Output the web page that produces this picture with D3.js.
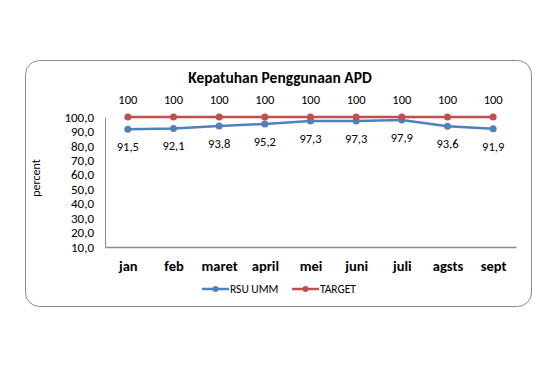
<!DOCTYPE html>
<html>
<head>
<meta charset="utf-8">
<script src="https://cdn.jsdelivr.net/npm/d3@7"></script>
<style>
  body { margin: 0; background: #fff; }
  svg text { font-family: Carlito, Lato, "Liberation Sans", sans-serif; fill: #000; }
</style>
</head>
<body>
<div id="chart"></div>
<script>
const months = ["jan", "feb", "maret", "april", "mei", "juni", "juli", "agsts", "sept"];
const rsuUmm = [91.5, 92.1, 93.8, 95.2, 97.3, 97.3, 97.9, 93.6, 91.9];
const target = [100, 100, 100, 100, 100, 100, 100, 100, 100];
const yTicks = [10, 20, 30, 40, 50, 60, 70, 80, 90, 100];

const series = [
  { name: "RSU UMM", values: rsuUmm, color: "#4F81BD", labelPos: "below" },
  { name: "TARGET", values: target, color: "#C0504D", labelPos: "above" }
];

const fullWidth = 560, fullHeight = 370;
const margin = { top: 117, right: 44, bottom: 123, left: 105 },
  width = fullWidth - margin.left - margin.right,
  height = fullHeight - margin.top - margin.bottom;

const root = d3.select("#chart").append("svg")
  .attr("width", fullWidth)
  .attr("height", fullHeight);

// chart frame
root.append("rect")
  .attr("x", 25.5).attr("y", 60.5)
  .attr("width", 506).attr("height", 246)
  .attr("rx", 14).attr("ry", 14)
  .attr("fill", "#fff")
  .attr("stroke", "#8c8c8c")
  .attr("stroke-width", 1);

root.append("text")
  .attr("x", 280).attr("y", 83)
  .attr("text-anchor", "middle")
  .style("font-size", "15.5px")
  .style("font-weight", "bold")
  .text("Kepatuhan Penggunaan APD");

const svg = root.append("g")
  .attr("transform", `translate(${margin.left},${margin.top})`);

const x = d3.scalePoint().domain(months).range([0, width]).padding(0.5);
const y = d3.scaleLinear().domain([10, 100]).range([height, 0]);

// y axis
const yAxis = svg.append("g")
  .call(d3.axisLeft(y).tickValues(yTicks).tickSize(0).tickPadding(11)
    .tickFormat(d => d3.format(".1f")(d).replace(".", ",")));
yAxis.select(".domain").attr("stroke", "#8c8c8c");
yAxis.selectAll("text").style("font-size", "13px");

// x axis
const xAxis = svg.append("g")
  .attr("transform", `translate(0,${height})`)
  .call(d3.axisBottom(x).tickSize(0).tickPadding(14));
xAxis.select(".domain").attr("stroke", "#8c8c8c").attr("stroke-width", 1.5);
xAxis.selectAll("text").style("font-size", "14.5px").style("font-weight", "bold");

svg.append("text")
  .attr("transform", `translate(${40 - margin.left},${178 - margin.top}) rotate(-90)`)
  .attr("text-anchor", "middle")
  .style("font-size", "12px")
  .text("percent");

const line = d3.line().x((d, i) => x(months[i])).y(d => y(d));

series.forEach(s => {
  svg.append("path")
    .datum(s.values)
    .attr("fill", "none")
    .attr("stroke", s.color)
    .attr("stroke-width", 2.5)
    .attr("d", line);

  svg.selectAll(null)
    .data(s.values)
    .enter()
    .append("circle")
    .attr("cx", (d, i) => x(months[i]))
    .attr("cy", d => y(d))
    .attr("r", 3.5)
    .attr("fill", s.color);

  svg.selectAll(null)
    .data(s.values)
    .enter()
    .append("text")
    .attr("x", (d, i) => x(months[i]))
    .attr("y", d => s.labelPos === "above" ? y(d) - 13 : y(d) + 22)
    .attr("text-anchor", "middle")
    .style("font-size", "12.5px")
    .text(d => String(d).replace(".", ","));
});

// legend
const legend = root.append("g").attr("transform", "translate(202,289)");
const legendItems = [
  { s: series[0], x: 0 },
  { s: series[1], x: 90 }
];
legendItems.forEach(item => {
  const g = legend.append("g").attr("transform", `translate(${item.x},0)`);
  g.append("line")
    .attr("x1", 0).attr("x2", 27).attr("y1", 0).attr("y2", 0)
    .attr("stroke", item.s.color).attr("stroke-width", 2.5);
  g.append("circle").attr("cx", 13.5).attr("cy", 0).attr("r", 3).attr("fill", item.s.color);
  g.append("text")
    .attr("x", 28).attr("y", 4)
    .style("font-size", "11.5px")
    .text(item.s.name);
});
</script>
</body>
</html>
